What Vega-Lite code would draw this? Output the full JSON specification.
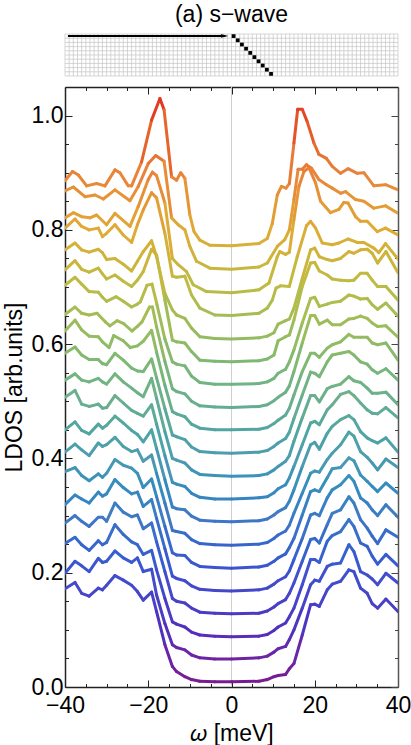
{"$schema":"https://vega.github.io/schema/vega-lite/v6.json","padding":{"left":3,"top":3,"right":0,"bottom":0},"spacing":9,"background":"white","config":{"font":"Liberation Sans","view":{"stroke":null}},"datasets":{"curves":[
{"s":0,"x":-40,"y":0.172},{"s":0,"x":-37.6,"y":0.183},{"s":0,"x":-36,"y":0.164},{"s":0,"x":-34.2,"y":0.159},{"s":0,"x":-32,"y":0.173},{"s":0,"x":-31,"y":0.17},{"s":0,"x":-30,"y":0.178},{"s":0,"x":-28,"y":0.195},{"s":0,"x":-26,"y":0.187},{"s":0,"x":-24,"y":0.178},{"s":0,"x":-22.6,"y":0.167},{"s":0,"x":-21.2,"y":0.152},{"s":0,"x":-19.2,"y":0.166},{"s":0,"x":-18,"y":0.132},{"s":0,"x":-16,"y":0.074},{"s":0,"x":-14.2,"y":0.036},{"s":0,"x":-13.2,"y":0.027},{"s":0,"x":-11.2,"y":0.018},{"s":0,"x":-9.6,"y":0.013},{"s":0,"x":-7.6,"y":0.01},{"s":0,"x":-4,"y":0.009},{"s":0,"x":0,"y":0.009},{"s":0,"x":6.6,"y":0.01},{"s":0,"x":8.6,"y":0.013},{"s":0,"x":10.2,"y":0.018},{"s":0,"x":11.2,"y":0.02},{"s":0,"x":13,"y":0.022},{"s":0,"x":13.9,"y":0.032},{"s":0,"x":15,"y":0.041},{"s":0,"x":17,"y":0.091},{"s":0,"x":19,"y":0.144},{"s":0,"x":20,"y":0.145},{"s":0,"x":21.1,"y":0.141},{"s":0,"x":23,"y":0.17},{"s":0,"x":24.2,"y":0.18},{"s":0,"x":26.2,"y":0.185},{"s":0,"x":28.2,"y":0.205},{"s":0,"x":29.4,"y":0.202},{"s":0,"x":31,"y":0.173},{"s":0,"x":32.6,"y":0.164},{"s":0,"x":33.8,"y":0.146},{"s":0,"x":35.1,"y":0.138},{"s":0,"x":37.1,"y":0.154},{"s":0,"x":40,"y":0.132},
{"s":1,"x":-40,"y":0.199},{"s":1,"x":-37.6,"y":0.22},{"s":1,"x":-36,"y":0.212},{"s":1,"x":-34.2,"y":0.202},{"s":1,"x":-32,"y":0.225},{"s":1,"x":-31,"y":0.218},{"s":1,"x":-30,"y":0.22},{"s":1,"x":-28,"y":0.238},{"s":1,"x":-26,"y":0.226},{"s":1,"x":-24,"y":0.218},{"s":1,"x":-22.6,"y":0.226},{"s":1,"x":-21.2,"y":0.202},{"s":1,"x":-19.2,"y":0.206},{"s":1,"x":-18,"y":0.161},{"s":1,"x":-16,"y":0.111},{"s":1,"x":-14.2,"y":0.074},{"s":1,"x":-13.2,"y":0.069},{"s":1,"x":-11.2,"y":0.065},{"s":1,"x":-9.6,"y":0.056},{"s":1,"x":-7.6,"y":0.051},{"s":1,"x":-4,"y":0.049},{"s":1,"x":0,"y":0.049},{"s":1,"x":6.6,"y":0.051},{"s":1,"x":8.6,"y":0.054},{"s":1,"x":10.2,"y":0.061},{"s":1,"x":11.2,"y":0.067},{"s":1,"x":13,"y":0.071},{"s":1,"x":13.9,"y":0.083},{"s":1,"x":15,"y":0.1},{"s":1,"x":17,"y":0.138},{"s":1,"x":19,"y":0.179},{"s":1,"x":20,"y":0.187},{"s":1,"x":21.1,"y":0.185},{"s":1,"x":23,"y":0.211},{"s":1,"x":24.2,"y":0.215},{"s":1,"x":26.2,"y":0.217},{"s":1,"x":28.2,"y":0.249},{"s":1,"x":29.4,"y":0.237},{"s":1,"x":31,"y":0.202},{"s":1,"x":32.6,"y":0.196},{"s":1,"x":33.8,"y":0.189},{"s":1,"x":35.1,"y":0.179},{"s":1,"x":37.1,"y":0.199},{"s":1,"x":40,"y":0.182},
{"s":2,"x":-40,"y":0.251},{"s":2,"x":-37.6,"y":0.262},{"s":2,"x":-36,"y":0.249},{"s":2,"x":-34.2,"y":0.239},{"s":2,"x":-32,"y":0.256},{"s":2,"x":-31,"y":0.249},{"s":2,"x":-30,"y":0.253},{"s":2,"x":-28,"y":0.284},{"s":2,"x":-26,"y":0.267},{"s":2,"x":-24,"y":0.254},{"s":2,"x":-22.6,"y":0.249},{"s":2,"x":-21.2,"y":0.232},{"s":2,"x":-19.2,"y":0.239},{"s":2,"x":-18,"y":0.205},{"s":2,"x":-16,"y":0.155},{"s":2,"x":-14.2,"y":0.114},{"s":2,"x":-13.2,"y":0.11},{"s":2,"x":-11.2,"y":0.105},{"s":2,"x":-9.6,"y":0.096},{"s":2,"x":-7.6,"y":0.091},{"s":2,"x":-4,"y":0.089},{"s":2,"x":0,"y":0.088},{"s":2,"x":6.6,"y":0.089},{"s":2,"x":8.6,"y":0.092},{"s":2,"x":10.2,"y":0.099},{"s":2,"x":11.2,"y":0.105},{"s":2,"x":13,"y":0.112},{"s":2,"x":13.9,"y":0.123},{"s":2,"x":15,"y":0.138},{"s":2,"x":17,"y":0.179},{"s":2,"x":19,"y":0.223},{"s":2,"x":20,"y":0.223},{"s":2,"x":21.1,"y":0.218},{"s":2,"x":23,"y":0.255},{"s":2,"x":24.2,"y":0.265},{"s":2,"x":26.2,"y":0.272},{"s":2,"x":28.2,"y":0.293},{"s":2,"x":29.4,"y":0.281},{"s":2,"x":31,"y":0.252},{"s":2,"x":32.6,"y":0.246},{"s":2,"x":33.8,"y":0.229},{"s":2,"x":35.1,"y":0.215},{"s":2,"x":37.1,"y":0.232},{"s":2,"x":40,"y":0.212},
{"s":3,"x":-40,"y":0.287},{"s":3,"x":-37.6,"y":0.3},{"s":3,"x":-36,"y":0.29},{"s":3,"x":-34.2,"y":0.281},{"s":3,"x":-32,"y":0.297},{"s":3,"x":-31,"y":0.297},{"s":3,"x":-30,"y":0.29},{"s":3,"x":-28,"y":0.322},{"s":3,"x":-26,"y":0.306},{"s":3,"x":-24,"y":0.298},{"s":3,"x":-22.6,"y":0.301},{"s":3,"x":-21.2,"y":0.277},{"s":3,"x":-19.2,"y":0.287},{"s":3,"x":-18,"y":0.254},{"s":3,"x":-16,"y":0.202},{"s":3,"x":-14.2,"y":0.155},{"s":3,"x":-13.2,"y":0.15},{"s":3,"x":-11.2,"y":0.147},{"s":3,"x":-9.6,"y":0.138},{"s":3,"x":-7.6,"y":0.131},{"s":3,"x":-4,"y":0.129},{"s":3,"x":0,"y":0.128},{"s":3,"x":6.6,"y":0.129},{"s":3,"x":8.6,"y":0.133},{"s":3,"x":10.2,"y":0.14},{"s":3,"x":11.2,"y":0.146},{"s":3,"x":13,"y":0.153},{"s":3,"x":13.9,"y":0.164},{"s":3,"x":15,"y":0.182},{"s":3,"x":17,"y":0.22},{"s":3,"x":19,"y":0.258},{"s":3,"x":20,"y":0.26},{"s":3,"x":21.1,"y":0.252},{"s":3,"x":23,"y":0.284},{"s":3,"x":24.2,"y":0.304},{"s":3,"x":26.2,"y":0.31},{"s":3,"x":28.2,"y":0.333},{"s":3,"x":29.4,"y":0.322},{"s":3,"x":31,"y":0.293},{"s":3,"x":32.6,"y":0.278},{"s":3,"x":33.8,"y":0.264},{"s":3,"x":35.1,"y":0.251},{"s":3,"x":37.1,"y":0.275},{"s":3,"x":40,"y":0.262},
{"s":4,"x":-40,"y":0.319},{"s":4,"x":-37.6,"y":0.336},{"s":4,"x":-36,"y":0.329},{"s":4,"x":-34.2,"y":0.322},{"s":4,"x":-32,"y":0.341},{"s":4,"x":-31,"y":0.334},{"s":4,"x":-30,"y":0.338},{"s":4,"x":-28,"y":0.363},{"s":4,"x":-26,"y":0.349},{"s":4,"x":-24,"y":0.338},{"s":4,"x":-22.6,"y":0.341},{"s":4,"x":-21.2,"y":0.316},{"s":4,"x":-19.2,"y":0.328},{"s":4,"x":-18,"y":0.295},{"s":4,"x":-16,"y":0.242},{"s":4,"x":-14.2,"y":0.194},{"s":4,"x":-13.2,"y":0.19},{"s":4,"x":-11.2,"y":0.186},{"s":4,"x":-9.6,"y":0.177},{"s":4,"x":-7.6,"y":0.171},{"s":4,"x":-4,"y":0.169},{"s":4,"x":0,"y":0.168},{"s":4,"x":6.6,"y":0.17},{"s":4,"x":8.6,"y":0.173},{"s":4,"x":10.2,"y":0.18},{"s":4,"x":11.2,"y":0.186},{"s":4,"x":13,"y":0.193},{"s":4,"x":13.9,"y":0.203},{"s":4,"x":15,"y":0.223},{"s":4,"x":17,"y":0.26},{"s":4,"x":19,"y":0.301},{"s":4,"x":20,"y":0.304},{"s":4,"x":21.1,"y":0.3},{"s":4,"x":23,"y":0.331},{"s":4,"x":24.2,"y":0.345},{"s":4,"x":26.2,"y":0.354},{"s":4,"x":28.2,"y":0.37},{"s":4,"x":29.4,"y":0.36},{"s":4,"x":31,"y":0.331},{"s":4,"x":32.6,"y":0.322},{"s":4,"x":33.8,"y":0.31},{"s":4,"x":35.1,"y":0.3},{"s":4,"x":37.1,"y":0.319},{"s":4,"x":40,"y":0.297},
{"s":5,"x":-40,"y":0.377},{"s":5,"x":-37.6,"y":0.384},{"s":5,"x":-36,"y":0.37},{"s":5,"x":-34.2,"y":0.361},{"s":5,"x":-32,"y":0.373},{"s":5,"x":-31,"y":0.367},{"s":5,"x":-30,"y":0.374},{"s":5,"x":-28,"y":0.398},{"s":5,"x":-26,"y":0.388},{"s":5,"x":-24,"y":0.383},{"s":5,"x":-22.6,"y":0.374},{"s":5,"x":-21.2,"y":0.349},{"s":5,"x":-19.2,"y":0.364},{"s":5,"x":-18,"y":0.333},{"s":5,"x":-16,"y":0.281},{"s":5,"x":-14.2,"y":0.235},{"s":5,"x":-13.2,"y":0.231},{"s":5,"x":-11.2,"y":0.23},{"s":5,"x":-9.6,"y":0.218},{"s":5,"x":-7.6,"y":0.211},{"s":5,"x":-4,"y":0.209},{"s":5,"x":0,"y":0.208},{"s":5,"x":6.6,"y":0.21},{"s":5,"x":8.6,"y":0.213},{"s":5,"x":10.2,"y":0.22},{"s":5,"x":11.2,"y":0.226},{"s":5,"x":13,"y":0.233},{"s":5,"x":13.9,"y":0.244},{"s":5,"x":15,"y":0.26},{"s":5,"x":17,"y":0.301},{"s":5,"x":19,"y":0.342},{"s":5,"x":20,"y":0.345},{"s":5,"x":21.1,"y":0.342},{"s":5,"x":23,"y":0.366},{"s":5,"x":24.2,"y":0.382},{"s":5,"x":26.2,"y":0.384},{"s":5,"x":28.2,"y":0.401},{"s":5,"x":29.4,"y":0.396},{"s":5,"x":31,"y":0.371},{"s":5,"x":32.6,"y":0.36},{"s":5,"x":33.8,"y":0.351},{"s":5,"x":35.1,"y":0.342},{"s":5,"x":37.1,"y":0.357},{"s":5,"x":40,"y":0.339},
{"s":6,"x":-40,"y":0.411},{"s":6,"x":-37.6,"y":0.425},{"s":6,"x":-36,"y":0.415},{"s":6,"x":-34.2,"y":0.405},{"s":6,"x":-32,"y":0.427},{"s":6,"x":-31,"y":0.421},{"s":6,"x":-30,"y":0.424},{"s":6,"x":-28,"y":0.437},{"s":6,"x":-26,"y":0.421},{"s":6,"x":-24,"y":0.412},{"s":6,"x":-22.6,"y":0.415},{"s":6,"x":-21.2,"y":0.395},{"s":6,"x":-19.2,"y":0.406},{"s":6,"x":-18,"y":0.374},{"s":6,"x":-16,"y":0.322},{"s":6,"x":-14.2,"y":0.274},{"s":6,"x":-13.2,"y":0.272},{"s":6,"x":-11.2,"y":0.269},{"s":6,"x":-9.6,"y":0.258},{"s":6,"x":-7.6,"y":0.251},{"s":6,"x":-4,"y":0.249},{"s":6,"x":0,"y":0.248},{"s":6,"x":6.6,"y":0.25},{"s":6,"x":8.6,"y":0.253},{"s":6,"x":10.2,"y":0.26},{"s":6,"x":11.2,"y":0.266},{"s":6,"x":13,"y":0.273},{"s":6,"x":13.9,"y":0.283},{"s":6,"x":15,"y":0.304},{"s":6,"x":17,"y":0.339},{"s":6,"x":19,"y":0.374},{"s":6,"x":20,"y":0.378},{"s":6,"x":21.1,"y":0.376},{"s":6,"x":23,"y":0.398},{"s":6,"x":24.2,"y":0.409},{"s":6,"x":26.2,"y":0.424},{"s":6,"x":28.2,"y":0.446},{"s":6,"x":29.4,"y":0.439},{"s":6,"x":31,"y":0.412},{"s":6,"x":32.6,"y":0.402},{"s":6,"x":33.8,"y":0.392},{"s":6,"x":35.1,"y":0.38},{"s":6,"x":37.1,"y":0.399},{"s":6,"x":40,"y":0.384},
{"s":7,"x":-40,"y":0.45},{"s":7,"x":-37.6,"y":0.464},{"s":7,"x":-36,"y":0.449},{"s":7,"x":-34.2,"y":0.443},{"s":7,"x":-32,"y":0.46},{"s":7,"x":-31,"y":0.453},{"s":7,"x":-30,"y":0.458},{"s":7,"x":-28,"y":0.474},{"s":7,"x":-26,"y":0.462},{"s":7,"x":-24,"y":0.449},{"s":7,"x":-22.6,"y":0.442},{"s":7,"x":-21.2,"y":0.429},{"s":7,"x":-19.2,"y":0.45},{"s":7,"x":-18,"y":0.417},{"s":7,"x":-16,"y":0.363},{"s":7,"x":-14.2,"y":0.315},{"s":7,"x":-13.2,"y":0.312},{"s":7,"x":-11.2,"y":0.31},{"s":7,"x":-9.6,"y":0.299},{"s":7,"x":-7.6,"y":0.292},{"s":7,"x":-4,"y":0.29},{"s":7,"x":0,"y":0.289},{"s":7,"x":6.6,"y":0.291},{"s":7,"x":8.6,"y":0.294},{"s":7,"x":10.2,"y":0.301},{"s":7,"x":11.2,"y":0.307},{"s":7,"x":13,"y":0.314},{"s":7,"x":13.9,"y":0.325},{"s":7,"x":15,"y":0.345},{"s":7,"x":17,"y":0.386},{"s":7,"x":19,"y":0.424},{"s":7,"x":20,"y":0.428},{"s":7,"x":21.1,"y":0.416},{"s":7,"x":23,"y":0.444},{"s":7,"x":24.2,"y":0.456},{"s":7,"x":26.2,"y":0.468},{"s":7,"x":28.2,"y":0.475},{"s":7,"x":29.4,"y":0.468},{"s":7,"x":31,"y":0.447},{"s":7,"x":32.6,"y":0.436},{"s":7,"x":33.8,"y":0.431},{"s":7,"x":35.1,"y":0.427},{"s":7,"x":37.1,"y":0.436},{"s":7,"x":40,"y":0.411},
{"s":8,"x":-40,"y":0.507},{"s":8,"x":-37.6,"y":0.519},{"s":8,"x":-36,"y":0.495},{"s":8,"x":-34.2,"y":0.491},{"s":8,"x":-32,"y":0.495},{"s":8,"x":-31,"y":0.488},{"s":8,"x":-30,"y":0.489},{"s":8,"x":-28,"y":0.51},{"s":8,"x":-26,"y":0.497},{"s":8,"x":-24,"y":0.484},{"s":8,"x":-22.6,"y":0.479},{"s":8,"x":-21.2,"y":0.474},{"s":8,"x":-19.2,"y":0.494},{"s":8,"x":-18,"y":0.46},{"s":8,"x":-16,"y":0.405},{"s":8,"x":-14.2,"y":0.358},{"s":8,"x":-13.2,"y":0.355},{"s":8,"x":-11.2,"y":0.351},{"s":8,"x":-9.6,"y":0.339},{"s":8,"x":-7.6,"y":0.332},{"s":8,"x":-4,"y":0.329},{"s":8,"x":0,"y":0.329},{"s":8,"x":6.6,"y":0.331},{"s":8,"x":8.6,"y":0.333},{"s":8,"x":10.2,"y":0.34},{"s":8,"x":11.2,"y":0.347},{"s":8,"x":13,"y":0.354},{"s":8,"x":13.9,"y":0.366},{"s":8,"x":15,"y":0.386},{"s":8,"x":17,"y":0.424},{"s":8,"x":19,"y":0.462},{"s":8,"x":20,"y":0.465},{"s":8,"x":21.1,"y":0.459},{"s":8,"x":23,"y":0.485},{"s":8,"x":24.2,"y":0.494},{"s":8,"x":26.2,"y":0.512},{"s":8,"x":28.2,"y":0.517},{"s":8,"x":29.4,"y":0.51},{"s":8,"x":31,"y":0.497},{"s":8,"x":32.6,"y":0.485},{"s":8,"x":33.8,"y":0.479},{"s":8,"x":35.1,"y":0.478},{"s":8,"x":37.1,"y":0.489},{"s":8,"x":40,"y":0.471},
{"s":9,"x":-40,"y":0.537},{"s":9,"x":-37.6,"y":0.548},{"s":9,"x":-36,"y":0.537},{"s":9,"x":-34.2,"y":0.534},{"s":9,"x":-32,"y":0.54},{"s":9,"x":-31,"y":0.534},{"s":9,"x":-30,"y":0.53},{"s":9,"x":-28,"y":0.548},{"s":9,"x":-26,"y":0.534},{"s":9,"x":-24,"y":0.523},{"s":9,"x":-22.6,"y":0.515},{"s":9,"x":-21.2,"y":0.508},{"s":9,"x":-19.2,"y":0.54},{"s":9,"x":-18,"y":0.505},{"s":9,"x":-16,"y":0.447},{"s":9,"x":-14.2,"y":0.4},{"s":9,"x":-13.2,"y":0.397},{"s":9,"x":-11.2,"y":0.392},{"s":9,"x":-9.6,"y":0.38},{"s":9,"x":-7.6,"y":0.372},{"s":9,"x":-4,"y":0.37},{"s":9,"x":0,"y":0.369},{"s":9,"x":6.6,"y":0.37},{"s":9,"x":8.6,"y":0.373},{"s":9,"x":10.2,"y":0.38},{"s":9,"x":11.2,"y":0.386},{"s":9,"x":13,"y":0.395},{"s":9,"x":13.9,"y":0.405},{"s":9,"x":15,"y":0.43},{"s":9,"x":17,"y":0.471},{"s":9,"x":19,"y":0.51},{"s":9,"x":20,"y":0.51},{"s":9,"x":21.1,"y":0.499},{"s":9,"x":23,"y":0.522},{"s":9,"x":24.2,"y":0.526},{"s":9,"x":26.2,"y":0.53},{"s":9,"x":28.2,"y":0.543},{"s":9,"x":29.4,"y":0.536},{"s":9,"x":31,"y":0.533},{"s":9,"x":32.6,"y":0.523},{"s":9,"x":33.8,"y":0.514},{"s":9,"x":35.1,"y":0.514},{"s":9,"x":37.1,"y":0.516},{"s":9,"x":40,"y":0.494},
{"s":10,"x":-40,"y":0.584},{"s":10,"x":-37.6,"y":0.595},{"s":10,"x":-36,"y":0.581},{"s":10,"x":-34.2,"y":0.573},{"s":10,"x":-32,"y":0.573},{"s":10,"x":-31,"y":0.566},{"s":10,"x":-30,"y":0.564},{"s":10,"x":-28,"y":0.584},{"s":10,"x":-26,"y":0.572},{"s":10,"x":-24,"y":0.558},{"s":10,"x":-22.6,"y":0.553},{"s":10,"x":-21.2,"y":0.552},{"s":10,"x":-19.2,"y":0.574},{"s":10,"x":-18,"y":0.541},{"s":10,"x":-16,"y":0.487},{"s":10,"x":-14.2,"y":0.441},{"s":10,"x":-13.2,"y":0.438},{"s":10,"x":-11.2,"y":0.433},{"s":10,"x":-9.6,"y":0.42},{"s":10,"x":-7.6,"y":0.412},{"s":10,"x":-4,"y":0.41},{"s":10,"x":0,"y":0.409},{"s":10,"x":6.6,"y":0.411},{"s":10,"x":8.6,"y":0.414},{"s":10,"x":10.2,"y":0.421},{"s":10,"x":11.2,"y":0.427},{"s":10,"x":13,"y":0.435},{"s":10,"x":13.9,"y":0.446},{"s":10,"x":15,"y":0.47},{"s":10,"x":17,"y":0.511},{"s":10,"x":19,"y":0.551},{"s":10,"x":20,"y":0.549},{"s":10,"x":21.1,"y":0.543},{"s":10,"x":23,"y":0.569},{"s":10,"x":24.2,"y":0.581},{"s":10,"x":26.2,"y":0.584},{"s":10,"x":28.2,"y":0.587},{"s":10,"x":29.4,"y":0.581},{"s":10,"x":31,"y":0.569},{"s":10,"x":32.6,"y":0.565},{"s":10,"x":33.8,"y":0.555},{"s":10,"x":35.1,"y":0.549},{"s":10,"x":37.1,"y":0.557},{"s":10,"x":40,"y":0.537},
{"s":11,"x":-40,"y":0.623},{"s":11,"x":-37.6,"y":0.642},{"s":11,"x":-36,"y":0.625},{"s":11,"x":-34.2,"y":0.614},{"s":11,"x":-32,"y":0.613},{"s":11,"x":-31,"y":0.604},{"s":11,"x":-29.4,"y":0.594},{"s":11,"x":-28.3,"y":0.615},{"s":11,"x":-26,"y":0.606},{"s":11,"x":-24.3,"y":0.594},{"s":11,"x":-22.6,"y":0.597},{"s":11,"x":-21.2,"y":0.605},{"s":11,"x":-19.2,"y":0.624},{"s":11,"x":-18,"y":0.586},{"s":11,"x":-16,"y":0.528},{"s":11,"x":-14.2,"y":0.482},{"s":11,"x":-13.2,"y":0.478},{"s":11,"x":-11.2,"y":0.473},{"s":11,"x":-9.6,"y":0.46},{"s":11,"x":-7.6,"y":0.453},{"s":11,"x":-4,"y":0.45},{"s":11,"x":0,"y":0.45},{"s":11,"x":6.6,"y":0.451},{"s":11,"x":8.6,"y":0.454},{"s":11,"x":10.2,"y":0.461},{"s":11,"x":11.2,"y":0.467},{"s":11,"x":13,"y":0.476},{"s":11,"x":13.9,"y":0.488},{"s":11,"x":15,"y":0.511},{"s":11,"x":17,"y":0.552},{"s":11,"x":19,"y":0.584},{"s":11,"x":20,"y":0.584},{"s":11,"x":21.1,"y":0.577},{"s":11,"x":23,"y":0.593},{"s":11,"x":24.2,"y":0.599},{"s":11,"x":26.2,"y":0.604},{"s":11,"x":28.2,"y":0.617},{"s":11,"x":29.4,"y":0.612},{"s":11,"x":31,"y":0.612},{"s":11,"x":32.6,"y":0.612},{"s":11,"x":33.8,"y":0.602},{"s":11,"x":35.1,"y":0.599},{"s":11,"x":37.1,"y":0.602},{"s":11,"x":40,"y":0.572},
{"s":12,"x":-40,"y":0.652},{"s":12,"x":-37.6,"y":0.665},{"s":12,"x":-36,"y":0.654},{"s":12,"x":-34.2,"y":0.651},{"s":12,"x":-32.3,"y":0.654},{"s":12,"x":-30.3,"y":0.639},{"s":12,"x":-29.2,"y":0.632},{"s":12,"x":-27.5,"y":0.641},{"s":12,"x":-25.9,"y":0.636},{"s":12,"x":-23.9,"y":0.623},{"s":12,"x":-22.6,"y":0.631},{"s":12,"x":-21.5,"y":0.639},{"s":12,"x":-19.7,"y":0.665},{"s":12,"x":-19,"y":0.665},{"s":12,"x":-18,"y":0.63},{"s":12,"x":-16,"y":0.57},{"s":12,"x":-14.2,"y":0.522},{"s":12,"x":-13.2,"y":0.517},{"s":12,"x":-11.2,"y":0.513},{"s":12,"x":-9.6,"y":0.5},{"s":12,"x":-7.6,"y":0.492},{"s":12,"x":-4,"y":0.49},{"s":12,"x":0,"y":0.489},{"s":12,"x":6.6,"y":0.491},{"s":12,"x":8.6,"y":0.494},{"s":12,"x":10.2,"y":0.501},{"s":12,"x":11.2,"y":0.507},{"s":12,"x":13,"y":0.516},{"s":12,"x":13.9,"y":0.527},{"s":12,"x":15,"y":0.552},{"s":12,"x":17,"y":0.602},{"s":12,"x":19,"y":0.65},{"s":12,"x":20,"y":0.65},{"s":12,"x":21.1,"y":0.635},{"s":12,"x":23,"y":0.642},{"s":12,"x":24.2,"y":0.634},{"s":12,"x":26.2,"y":0.634},{"s":12,"x":28.2,"y":0.644},{"s":12,"x":29.4,"y":0.645},{"s":12,"x":31,"y":0.649},{"s":12,"x":32.6,"y":0.645},{"s":12,"x":33.8,"y":0.637},{"s":12,"x":35.1,"y":0.631},{"s":12,"x":37.1,"y":0.632},{"s":12,"x":40,"y":0.612},
{"s":13,"x":-40,"y":0.703},{"s":13,"x":-37.6,"y":0.717},{"s":13,"x":-36,"y":0.705},{"s":13,"x":-34.2,"y":0.692},{"s":13,"x":-32,"y":0.691},{"s":13,"x":-31,"y":0.682},{"s":13,"x":-30,"y":0.675},{"s":13,"x":-27.7,"y":0.683},{"s":13,"x":-26,"y":0.675},{"s":13,"x":-24,"y":0.665},{"s":13,"x":-22.6,"y":0.67},{"s":13,"x":-21.9,"y":0.674},{"s":13,"x":-20.3,"y":0.703},{"s":13,"x":-19.1,"y":0.705},{"s":13,"x":-17.9,"y":0.669},{"s":13,"x":-16,"y":0.609},{"s":13,"x":-14.2,"y":0.569},{"s":13,"x":-13.2,"y":0.565},{"s":13,"x":-11.2,"y":0.562},{"s":13,"x":-9.6,"y":0.544},{"s":13,"x":-7.6,"y":0.533},{"s":13,"x":-4,"y":0.53},{"s":13,"x":0,"y":0.53},{"s":13,"x":6.6,"y":0.531},{"s":13,"x":8.6,"y":0.534},{"s":13,"x":10.2,"y":0.54},{"s":13,"x":11.2,"y":0.549},{"s":13,"x":13,"y":0.556},{"s":13,"x":13.9,"y":0.569},{"s":13,"x":15,"y":0.59},{"s":13,"x":17,"y":0.637},{"s":13,"x":19,"y":0.68},{"s":13,"x":20,"y":0.682},{"s":13,"x":21.1,"y":0.666},{"s":13,"x":23,"y":0.67},{"s":13,"x":24.2,"y":0.673},{"s":13,"x":26.2,"y":0.675},{"s":13,"x":28.2,"y":0.686},{"s":13,"x":29.4,"y":0.684},{"s":13,"x":31,"y":0.679},{"s":13,"x":32.6,"y":0.68},{"s":13,"x":33.8,"y":0.669},{"s":13,"x":35.1,"y":0.661},{"s":13,"x":37.1,"y":0.672},{"s":13,"x":40,"y":0.649},
{"s":14,"x":-40,"y":0.73},{"s":14,"x":-37.6,"y":0.746},{"s":14,"x":-36,"y":0.731},{"s":14,"x":-34.2,"y":0.726},{"s":14,"x":-32,"y":0.733},{"s":14,"x":-31,"y":0.723},{"s":14,"x":-30,"y":0.714},{"s":14,"x":-28,"y":0.721},{"s":14,"x":-26,"y":0.71},{"s":14,"x":-24,"y":0.701},{"s":14,"x":-22.6,"y":0.712},{"s":14,"x":-21.2,"y":0.727},{"s":14,"x":-19.2,"y":0.766},{"s":14,"x":-18,"y":0.756},{"s":14,"x":-16,"y":0.677},{"s":14,"x":-14.2,"y":0.607},{"s":14,"x":-13.2,"y":0.604},{"s":14,"x":-11.2,"y":0.602},{"s":14,"x":-9.6,"y":0.587},{"s":14,"x":-7.6,"y":0.572},{"s":14,"x":-4,"y":0.57},{"s":14,"x":0,"y":0.569},{"s":14,"x":6.6,"y":0.571},{"s":14,"x":8.6,"y":0.574},{"s":14,"x":10.2,"y":0.581},{"s":14,"x":11.2,"y":0.606},{"s":14,"x":13,"y":0.613},{"s":14,"x":13.9,"y":0.616},{"s":14,"x":15,"y":0.642},{"s":14,"x":17,"y":0.701},{"s":14,"x":19,"y":0.742},{"s":14,"x":20,"y":0.743},{"s":14,"x":21.1,"y":0.728},{"s":14,"x":23,"y":0.721},{"s":14,"x":24.2,"y":0.714},{"s":14,"x":26.2,"y":0.712},{"s":14,"x":28.2,"y":0.711},{"s":14,"x":29.4,"y":0.712},{"s":14,"x":31,"y":0.724},{"s":14,"x":32.6,"y":0.724},{"s":14,"x":33.8,"y":0.712},{"s":14,"x":35.1,"y":0.701},{"s":14,"x":37.1,"y":0.701},{"s":14,"x":40,"y":0.677},
{"s":15,"x":-40,"y":0.765},{"s":15,"x":-37.6,"y":0.777},{"s":15,"x":-36,"y":0.765},{"s":15,"x":-34.2,"y":0.761},{"s":15,"x":-32,"y":0.766},{"s":15,"x":-31,"y":0.76},{"s":15,"x":-30,"y":0.748},{"s":15,"x":-28,"y":0.75},{"s":15,"x":-26,"y":0.74},{"s":15,"x":-24,"y":0.728},{"s":15,"x":-22.6,"y":0.745},{"s":15,"x":-21.2,"y":0.762},{"s":15,"x":-19.2,"y":0.781},{"s":15,"x":-18,"y":0.753},{"s":15,"x":-16,"y":0.689},{"s":15,"x":-14.2,"y":0.66},{"s":15,"x":-13.2,"y":0.651},{"s":15,"x":-11.2,"y":0.645},{"s":15,"x":-9.6,"y":0.628},{"s":15,"x":-7.6,"y":0.613},{"s":15,"x":-4,"y":0.61},{"s":15,"x":0,"y":0.609},{"s":15,"x":6.6,"y":0.611},{"s":15,"x":8.6,"y":0.614},{"s":15,"x":10.2,"y":0.62},{"s":15,"x":11.2,"y":0.635},{"s":15,"x":13,"y":0.641},{"s":15,"x":13.9,"y":0.644},{"s":15,"x":15,"y":0.663},{"s":15,"x":17,"y":0.715},{"s":15,"x":19,"y":0.765},{"s":15,"x":20,"y":0.768},{"s":15,"x":21.1,"y":0.753},{"s":15,"x":23,"y":0.748},{"s":15,"x":24.2,"y":0.746},{"s":15,"x":26.2,"y":0.75},{"s":15,"x":28.2,"y":0.762},{"s":15,"x":29.4,"y":0.759},{"s":15,"x":31,"y":0.765},{"s":15,"x":32.6,"y":0.766},{"s":15,"x":33.8,"y":0.759},{"s":15,"x":35.1,"y":0.742},{"s":15,"x":37.1,"y":0.762},{"s":15,"x":40,"y":0.725},
{"s":16,"x":-40,"y":0.803},{"s":16,"x":-37.6,"y":0.819},{"s":16,"x":-36,"y":0.806},{"s":16,"x":-34.2,"y":0.8},{"s":16,"x":-32,"y":0.803},{"s":16,"x":-31,"y":0.788},{"s":16,"x":-30,"y":0.794},{"s":16,"x":-28,"y":0.809},{"s":16,"x":-26,"y":0.791},{"s":16,"x":-24,"y":0.778},{"s":16,"x":-22.6,"y":0.809},{"s":16,"x":-21.2,"y":0.835},{"s":16,"x":-19.2,"y":0.865},{"s":16,"x":-18,"y":0.856},{"s":16,"x":-16,"y":0.794},{"s":16,"x":-14.2,"y":0.719},{"s":16,"x":-13.2,"y":0.717},{"s":16,"x":-11.2,"y":0.719},{"s":16,"x":-9.6,"y":0.686},{"s":16,"x":-7.6,"y":0.663},{"s":16,"x":-4,"y":0.651},{"s":16,"x":0,"y":0.65},{"s":16,"x":6.6,"y":0.654},{"s":16,"x":8.6,"y":0.663},{"s":16,"x":9.8,"y":0.677},{"s":16,"x":10.7,"y":0.698},{"s":16,"x":11.8,"y":0.702},{"s":16,"x":13.9,"y":0.701},{"s":16,"x":15.8,"y":0.753},{"s":16,"x":18,"y":0.807},{"s":16,"x":19,"y":0.815},{"s":16,"x":20.2,"y":0.803},{"s":16,"x":21.8,"y":0.777},{"s":16,"x":24.2,"y":0.774},{"s":16,"x":25.8,"y":0.777},{"s":16,"x":28,"y":0.784},{"s":16,"x":30.2,"y":0.778},{"s":16,"x":31.8,"y":0.778},{"s":16,"x":34.2,"y":0.768},{"s":16,"x":35.4,"y":0.76},{"s":16,"x":37,"y":0.776},{"s":16,"x":40,"y":0.749},
{"s":17,"x":-40,"y":0.821},{"s":17,"x":-38,"y":0.83},{"s":17,"x":-36,"y":0.823},{"s":17,"x":-34,"y":0.821},{"s":17,"x":-32.4,"y":0.826},{"s":17,"x":-30,"y":0.809},{"s":17,"x":-28,"y":0.829},{"s":17,"x":-24.4,"y":0.806},{"s":17,"x":-22.4,"y":0.841},{"s":17,"x":-20,"y":0.888},{"s":17,"x":-19,"y":0.901},{"s":17,"x":-18,"y":0.895},{"s":17,"x":-16,"y":0.847},{"s":17,"x":-14.2,"y":0.75},{"s":17,"x":-12.8,"y":0.739},{"s":17,"x":-10.8,"y":0.727},{"s":17,"x":-9.2,"y":0.704},{"s":17,"x":-6,"y":0.692},{"s":17,"x":0,"y":0.69},{"s":17,"x":6.6,"y":0.695},{"s":17,"x":9,"y":0.707},{"s":17,"x":11,"y":0.753},{"s":17,"x":11.6,"y":0.762},{"s":17,"x":13,"y":0.757},{"s":17,"x":13.9,"y":0.761},{"s":17,"x":15,"y":0.818},{"s":17,"x":16.2,"y":0.876},{"s":17,"x":17.4,"y":0.902},{"s":17,"x":18.6,"y":0.909},{"s":17,"x":20.2,"y":0.882},{"s":17,"x":21.4,"y":0.85},{"s":17,"x":23.8,"y":0.83},{"s":17,"x":25.8,"y":0.836},{"s":17,"x":27,"y":0.848},{"s":17,"x":28,"y":0.847},{"s":17,"x":29.8,"y":0.823},{"s":17,"x":31,"y":0.815},{"s":17,"x":32.6,"y":0.815},{"s":17,"x":35,"y":0.797},{"s":17,"x":37,"y":0.803},{"s":17,"x":40,"y":0.791},
{"s":18,"x":-40,"y":0.868},{"s":18,"x":-38,"y":0.875},{"s":18,"x":-35.2,"y":0.858},{"s":18,"x":-32.8,"y":0.861},{"s":18,"x":-30.8,"y":0.854},{"s":18,"x":-28,"y":0.87},{"s":18,"x":-24.4,"y":0.851},{"s":18,"x":-22.4,"y":0.876},{"s":18,"x":-20,"y":0.916},{"s":18,"x":-18.2,"y":0.93},{"s":18,"x":-16.2,"y":0.92},{"s":18,"x":-14.4,"y":0.821},{"s":18,"x":-12.8,"y":0.809},{"s":18,"x":-11.2,"y":0.8},{"s":18,"x":-10,"y":0.771},{"s":18,"x":-8.4,"y":0.745},{"s":18,"x":-5.2,"y":0.733},{"s":18,"x":0,"y":0.731},{"s":18,"x":6.6,"y":0.735},{"s":18,"x":8.6,"y":0.742},{"s":18,"x":11,"y":0.771},{"s":18,"x":12.8,"y":0.783},{"s":18,"x":13.9,"y":0.8},{"s":18,"x":15,"y":0.853},{"s":18,"x":16,"y":0.906},{"s":18,"x":17,"y":0.906},{"s":18,"x":18,"y":0.914},{"s":18,"x":19.2,"y":0.908},{"s":18,"x":21,"y":0.888},{"s":18,"x":22.8,"y":0.879},{"s":18,"x":24.2,"y":0.873},{"s":18,"x":26.2,"y":0.864},{"s":18,"x":27.4,"y":0.867},{"s":18,"x":29.8,"y":0.853},{"s":18,"x":31.8,"y":0.85},{"s":18,"x":34.2,"y":0.838},{"s":18,"x":37,"y":0.842},{"s":18,"x":40,"y":0.829},
{"s":19,"x":-40,"y":0.886},{"s":19,"x":-38.2,"y":0.902},{"s":19,"x":-36.8,"y":0.896},{"s":19,"x":-34.8,"y":0.877},{"s":19,"x":-32.4,"y":0.881},{"s":19,"x":-30.4,"y":0.877},{"s":19,"x":-28,"y":0.905},{"s":19,"x":-26.8,"y":0.9},{"s":19,"x":-24.8,"y":0.877},{"s":19,"x":-24,"y":0.877},{"s":19,"x":-21.6,"y":0.919},{"s":19,"x":-19.2,"y":0.992},{"s":19,"x":-17.2,"y":1.03},{"s":19,"x":-16.2,"y":1.01},{"s":19,"x":-14.4,"y":0.893},{"s":19,"x":-13.2,"y":0.887},{"s":19,"x":-12.2,"y":0.9},{"s":19,"x":-11.2,"y":0.89},{"s":19,"x":-10,"y":0.826},{"s":19,"x":-9,"y":0.797},{"s":19,"x":-7.6,"y":0.782},{"s":19,"x":-5.2,"y":0.773},{"s":19,"x":0,"y":0.772},{"s":19,"x":6.6,"y":0.776},{"s":19,"x":8.6,"y":0.785},{"s":19,"x":9.8,"y":0.811},{"s":19,"x":11,"y":0.861},{"s":19,"x":12,"y":0.876},{"s":19,"x":13.1,"y":0.873},{"s":19,"x":13.9,"y":0.881},{"s":19,"x":15,"y":0.952},{"s":19,"x":15.9,"y":1.011},{"s":19,"x":17,"y":1.011},{"s":19,"x":18.2,"y":0.989},{"s":19,"x":19.8,"y":0.952},{"s":19,"x":21,"y":0.932},{"s":19,"x":22.8,"y":0.925},{"s":19,"x":24.2,"y":0.911},{"s":19,"x":26.2,"y":0.899},{"s":19,"x":28,"y":0.907},{"s":19,"x":30.2,"y":0.899},{"s":19,"x":31.8,"y":0.9},{"s":19,"x":34.2,"y":0.877},{"s":19,"x":37,"y":0.879},{"s":19,"x":40,"y":0.87}
],"cells":[{"col":40.5,"row":0.5},{"col":41.5,"row":1.5},{"col":42.5,"row":2.5},{"col":43.5,"row":3.5},{"col":44.5,"row":4.5},{"col":45.5,"row":5.5},{"col":46.5,"row":6.5},{"col":47.5,"row":7.5},{"col":48.5,"row":8.5},{"col":49.5,"row":9.5}],
"cols":[{"g":0},{"g":1},{"g":2},{"g":3},{"g":4},{"g":5},{"g":6},{"g":7},{"g":8},{"g":9},{"g":10},{"g":11},{"g":12},{"g":13},{"g":14},{"g":15},{"g":16},{"g":17},{"g":18},{"g":19},{"g":20},{"g":21},{"g":22},{"g":23},{"g":24},{"g":25},{"g":26},{"g":27},{"g":28},{"g":29},{"g":30},{"g":31},{"g":32},{"g":33},{"g":34},{"g":35},{"g":36},{"g":37},{"g":38},{"g":39},{"g":40},{"g":41},{"g":42},{"g":43},{"g":44},{"g":45},{"g":46},{"g":47},{"g":48},{"g":49},{"g":50},{"g":51},{"g":52},{"g":53},{"g":54},{"g":55},{"g":56},{"g":57},{"g":58},{"g":59},{"g":60},{"g":61},{"g":62},{"g":63},{"g":64},{"g":65},{"g":66},{"g":67},{"g":68},{"g":69},{"g":70},{"g":71},{"g":72},{"g":73},{"g":74},{"g":75},{"g":76},{"g":77},{"g":78},{"g":79},{"g":80}],
"rows":[{"g":0},{"g":1},{"g":2},{"g":3},{"g":4},{"g":5},{"g":6},{"g":7},{"g":8},{"g":9},{"g":10}]},
"vconcat":[
{"width":333,"height":42,"title":{"text":"(a) s−wave","font":"Liberation Sans","fontSize":23,"fontWeight":"normal","color":"#000","anchor":"middle","offset":7},
"layer":[
{"data":{"name":"cols"},"mark":{"type":"rule","color":"#c4c4c4","strokeWidth":0.7},"encoding":{"x":{"field":"g","type":"quantitative","axis":null,"scale":{"domain":[0,80],"nice":false,"zero":false}}}},
{"data":{"name":"rows"},"mark":{"type":"rule","color":"#c4c4c4","strokeWidth":0.7},"encoding":{"y":{"field":"g","type":"quantitative","axis":null,"scale":{"domain":[10,0],"nice":false,"zero":false}}}},
{"data":{"name":"cells"},"mark":{"type":"square","size":14,"color":"#000","opacity":1},"encoding":{
"x":{"field":"col","type":"quantitative","axis":null},
"y":{"field":"row","type":"quantitative","axis":null}}},
{"data":{"values":[{"col":0.7,"col2":38.5,"row":0.45}]},"mark":{"type":"rule","color":"#000","strokeWidth":2},"encoding":{"x":{"field":"col","type":"quantitative","axis":null},"x2":{"field":"col2"},"y":{"field":"row","type":"quantitative","axis":null}}},
{"data":{"values":[{"col":38.3,"row":0.45}]},"mark":{"type":"point","shape":"M-1,-0.5L1,0L-1,0.5L-0.6,0Z","filled":true,"size":60,"color":"#000","opacity":1},"encoding":{"x":{"field":"col","type":"quantitative","axis":null},"y":{"field":"row","type":"quantitative","axis":null}}}
]},
{"width":333,"height":600,"resolve":{"axis":{"x":"independent","y":"independent"}},
"layer":[
{"data":{"values":[{"x":0}]},"mark":{"type":"rule","color":"#cfcfcf","strokeWidth":1},"encoding":{"x":{"field":"x","type":"quantitative","axis":null,"scale":{"domain":[-40,40],"nice":false,"zero":false}}}},
{"data":{"name":"curves"},"transform":[{"window":[{"op":"lead","field":"x","as":"x2"},{"op":"lead","field":"y","as":"y2"}],"groupby":["s"],"sort":[{"field":"x","order":"ascending"}]},{"filter":"datum.x2 != null"},{"calculate":"(datum.y+datum.y2)/2","as":"level"}],
"mark":{"type":"rule","strokeWidth":3,"strokeCap":"round","clip":true},
"encoding":{"x":{"field":"x","type":"quantitative","axis":null,"scale":{"domain":[-40,40],"nice":false,"zero":false}},"x2":{"field":"x2"},"y":{"field":"y","type":"quantitative","axis":null,"scale":{"domain":[0,1.05],"nice":false,"zero":false}},"y2":{"field":"y2"},
"color":{"field":"level","type":"quantitative","legend":null,"scale":{"domain":[0,0.1,0.2,0.3,0.4,0.5,0.6,0.7,0.8,0.9,1.03],"range":["#7b1a8c","#5030bd","#3f50cf","#4279c4","#4f9bb0","#6bae8e","#8fbb66","#bcbc45","#dfab36","#e8823a","#e32a22"]}},"order":{"field":"s"}}},
{"data":{"values":[{"x":0,"y":0}]},"mark":{"type":"point","opacity":0},"encoding":{
"x":{"field":"x","type":"quantitative","axis":{"orient":"bottom","values":[-40,-20,0,20,40],"format":"d","labelFontSize":23,"labelFont":"Liberation Sans","labelColor":"#000","labelPadding":14,"labelFlush":false,"labelOverlap":false,"tickSize":-7,"tickColor":"#222","tickWidth":1,"domain":true,"domainColor":"#222","domainWidth":1.5,"grid":false,"title":"𝜔 [meV]","titleFontSize":23,"titleFont":"Liberation Sans","titleFontWeight":"normal","titleColor":"#000","titlePadding":5}},
"y":{"field":"y","type":"quantitative","axis":{"orient":"left","values":[0,0.2,0.4,0.6,0.8,1],"format":".1f","labelFontSize":23,"labelFont":"Liberation Sans","labelColor":"#000","labelPadding":9,"labelOverlap":false,"labelFlush":false,"tickSize":-7,"tickColor":"#222","tickWidth":1,"domain":true,"domainColor":"#222","domainWidth":1.5,"grid":false,"title":"LDOS [arb.units]","titleFontSize":23,"titleFont":"Liberation Sans","titleFontWeight":"normal","titleColor":"#000","titlePadding":5}}}},
{"data":{"values":[{"x":0,"y":0}]},"mark":{"type":"point","opacity":0},"encoding":{
"x":{"field":"x","type":"quantitative","axis":{"orient":"bottom","values":[-35,-30,-25,-15,-10,-5,5,10,15,25,30,35],"labels":false,"tickSize":-3.5,"tickColor":"#222","tickWidth":1,"domain":false,"grid":false,"title":null}},
"y":{"field":"y","type":"quantitative","axis":{"orient":"left","values":[0.05,0.1,0.15,0.25,0.3,0.35,0.45,0.5,0.55,0.65,0.7,0.75,0.85,0.9,0.95],"labels":false,"tickSize":-3.5,"tickColor":"#222","tickWidth":1,"domain":false,"grid":false,"title":null}}}},
{"data":{"values":[{"x":0,"y":0}]},"mark":{"type":"point","opacity":0},"encoding":{
"x":{"field":"x","type":"quantitative","axis":{"orient":"top","values":[-40,-20,0,20,40],"labels":false,"tickSize":-7,"tickColor":"#222","tickWidth":1,"domain":true,"domainColor":"#222","domainWidth":1.5,"grid":false,"title":null}},
"y":{"field":"y","type":"quantitative","axis":{"orient":"right","values":[0,0.2,0.4,0.6,0.8,1],"labels":false,"tickSize":-7,"tickColor":"#444","tickWidth":1,"domain":true,"domainColor":"#555","domainWidth":1.5,"grid":false,"title":null}}}},
{"data":{"values":[{"x":0,"y":0}]},"mark":{"type":"point","opacity":0},"encoding":{
"x":{"field":"x","type":"quantitative","axis":{"orient":"top","values":[-35,-30,-25,-15,-10,-5,5,10,15,25,30,35],"labels":false,"tickSize":-3.5,"tickColor":"#222","tickWidth":1,"domain":false,"grid":false,"title":null}},
"y":{"field":"y","type":"quantitative","axis":{"orient":"right","values":[0.05,0.1,0.15,0.25,0.3,0.35,0.45,0.5,0.55,0.65,0.7,0.75,0.85,0.9,0.95],"labels":false,"tickSize":-3.5,"tickColor":"#444","tickWidth":1,"domain":false,"grid":false,"title":null}}}}
]}
]}
